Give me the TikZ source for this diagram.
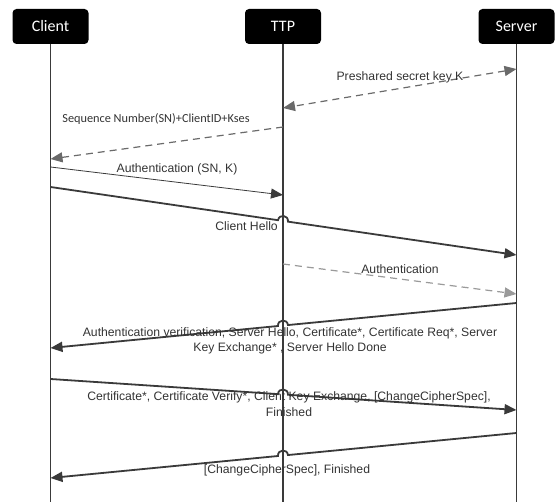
\documentclass[tikz,border=0pt]{standalone}
\usepackage{fontspec}
\setmainfont{Liberation Sans}
\newfontfamily\headfont{Carlito}
\usetikzlibrary{arrows.meta,calc}
\definecolor{lineg}{HTML}{3A3A3A}
\definecolor{dashg}{HTML}{6A6A6A}
\definecolor{lightg}{HTML}{9A9A9A}
\definecolor{textg}{HTML}{333333}
\tikzset{
  actor/.style={fill=black, rounded corners=4pt, text=white, inner sep=0pt,
    minimum width=76pt, minimum height=35pt, font=\headfont\fontsize{16}{19}\selectfont},
  life/.style={lineg, line width=1.6pt},
  msg/.style={lineg, line width=1.8pt, ->},
  thinmsg/.style={lineg, line width=0.8pt, ->},
  dashmsg/.style={dashg, line width=1.2pt, dash pattern=on 7pt off 5pt},
  lbl/.style={text=textg, inner sep=1pt, align=center, font=\fontsize{12.2}{15.5}\selectfont},
  hop/.style={out=90, in=90, relative, looseness=1.7},
  hopback/.style={out=-90, in=-90, relative, looseness=1.7}
}
\begin{document}
\begin{tikzpicture}[x=1pt, y=-1pt, >={Triangle[length=12pt,width=10pt]}]
  \useasboundingbox (0,0) rectangle (555,502);
  % the three parties
  \node[actor] (client) at (50.5,26.5) {Client};
  \node[actor] (ttp) at (283,26.5) {TTP};
  \node[actor] (server) at (516.5,26.5) {Server};
  \coordinate (clientend) at (client |- 0,502);
  \coordinate (ttpend) at (ttp |- 0,502);
  \coordinate (serverend) at (server |- 0,502);
  \draw[life] (client.south) -- (clientend);
  \draw[life] (ttp.south) -- (ttpend);
  \draw[life] (server.south) -- (serverend);
  % end points of the messages on the lifelines
  \coordinate (key1) at (server |- 0,69);
  \coordinate (key2) at (ttp |- 0,108);
  \coordinate (seq1) at (ttp |- 0,127);
  \coordinate (seq2) at (client |- 0,159);
  \coordinate (auth1) at (client |- 0,167);
  \coordinate (auth2) at (ttp |- 0,195);
  \coordinate (hello1) at (client |- 0,187);
  \coordinate (hello2) at (server |- 0,255);
  \coordinate (check1) at (ttp |- 0,264);
  \coordinate (check2) at (server |- 0,294);
  \coordinate (verif1) at (server |- 0,303);
  \coordinate (verif2) at (client |- 0,348);
  \coordinate (cert1) at (client |- 0,379);
  \coordinate (cert2) at (server |- 0,410);
  \coordinate (fin1) at (server |- 0,433);
  \coordinate (fin2) at (client |- 0,478);
  % where the long messages pass the TTP lifeline
  \coordinate (hellox) at (intersection of hello1--hello2 and ttp.south--ttpend);
  \coordinate (verifx) at (intersection of verif1--verif2 and ttp.south--ttpend);
  \coordinate (certx) at (intersection of cert1--cert2 and ttp.south--ttpend);
  \coordinate (finx) at (intersection of fin1--fin2 and ttp.south--ttpend);
  % key set-up through the TTP
  \draw[dashmsg, <->] (key1) -- (key2);
  \node[lbl] (keylbl) at (400,77) {Preshared secret key K};
  \draw[dashmsg, ->] (seq1) -- (seq2);
  \node[lbl, font=\headfont\fontsize{12.3}{15}\selectfont] (seqlbl) at (156,119) {Sequence Number(SN)+ClientID+Kses};
  \draw[thinmsg] (auth1) -- (auth2);
  \node[lbl] (authlbl) at (177,169) {Authentication (SN, K)};
  % handshake, hopping over the TTP lifeline
  \draw[msg] (hello1) -- ($(hellox)!5pt!(hello1)$) to[hop] ($(hellox)!5pt!(hello2)$) -- (hello2);
  \node[lbl, anchor=east] (hellolbl) at (279,226) {Client Hello};
  \draw[dashmsg, lightg, ->] (check1) -- (check2);
  \node[lbl] (checklbl) at (400,269) {Authentication};
  \draw[msg] (verif1) -- ($(verifx)!5pt!(verif1)$) to[hopback] ($(verifx)!5pt!(verif2)$) -- (verif2);
  \node[lbl] (veriflbl) at (290,341) {Authentication verification, Server Hello, Certificate*, Certificate Req*, Server\\Key Exchange* , Server Hello Done};
  \draw[msg] (cert1) -- ($(certx)!5pt!(cert1)$) to[hop] ($(certx)!5pt!(cert2)$) -- (cert2);
  \node[lbl] (certlbl) at (289,404) {Certificate*, Certificate Verify*, Client Key Exchange, [ChangeCipherSpec],\\Finished};
  \draw[msg] (fin1) -- ($(finx)!5pt!(fin1)$) to[hopback] ($(finx)!5pt!(fin2)$) -- (fin2);
  \node[lbl] (finlbl) at (287,470) {[ChangeCipherSpec], Finished};
\end{tikzpicture}
\end{document}
